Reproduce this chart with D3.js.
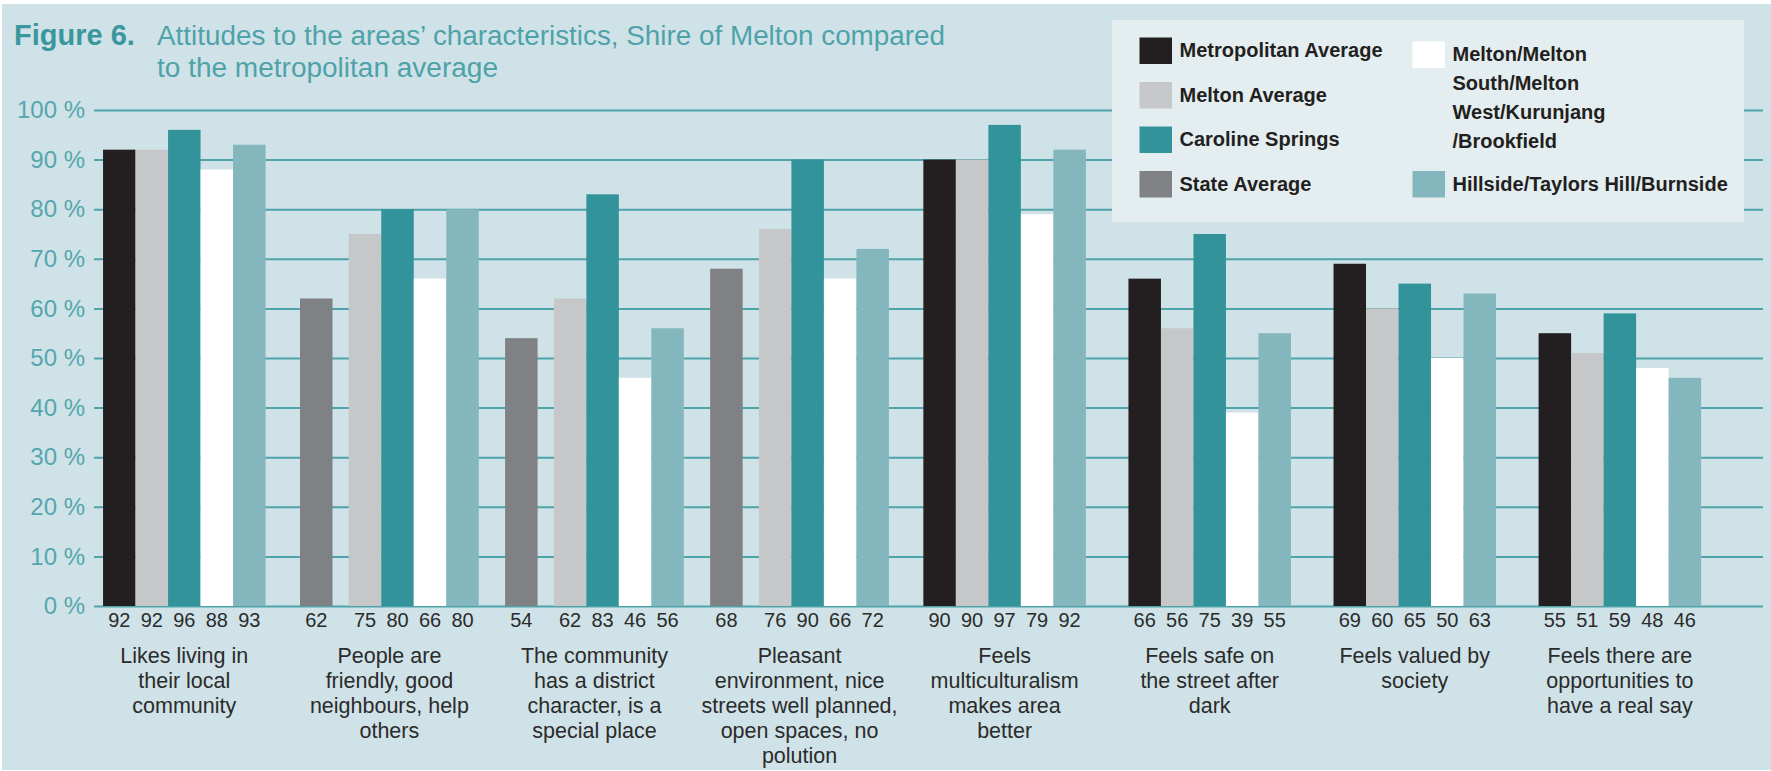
<!DOCTYPE html>
<html><head><meta charset="utf-8">
<script src="https://cdn.jsdelivr.net/npm/d3@7"></script>
<style>html,body{margin:0;padding:0;background:#fff;} svg{display:block}</style>
</head><body><svg id="chart" width="1771" height="771"></svg>
<script>
// ---------------- data ----------------
const categories = [
  "Likes living in their local community",
  "People are friendly, good neighbours, help others",
  "The community has a district character, is a special place",
  "Pleasant environment, nice streets well planned, open spaces, no polution",
  "Feels multiculturalism makes area better",
  "Feels safe on the street after dark",
  "Feels valued by society",
  "Feels there are opportunities to have a real say"
];
const categoryLines = [
  ["Likes living in", "their local", "community"],
  ["People are", "friendly, good", "neighbours, help", "others"],
  ["The community", "has a district", "character, is a", "special place"],
  ["Pleasant", "environment, nice", "streets well planned,", "open spaces, no", "polution"],
  ["Feels", "multiculturalism", "makes area", "better"],
  ["Feels safe on", "the street after", "dark"],
  ["Feels valued by", "society"],
  ["Feels there are", "opportunities to", "have a real say"]
];
const metropolitanAverage = [92, null, null, null, 90, 66, 69, 55];
const stateAverage        = [null, 62, 54, 68, null, null, null, null];
const meltonAverage       = [92, 75, 62, 76, 90, 56, 60, 51];
const carolineSprings     = [96, 80, 83, 90, 97, 75, 65, 59];
const meltonArea          = [88, 66, 46, 66, 79, 39, 50, 48];
const hillsideArea        = [93, 80, 56, 72, 92, 55, 63, 46];
const yTicks = [0, 10, 20, 30, 40, 50, 60, 70, 80, 90, 100];

const seriesKeys  = ["metro", "state", "melton", "caroline", "meltonArea", "hillside"];
const seriesNames = ["Metropolitan Average", "State Average", "Melton Average", "Caroline Springs",
                     "Melton/Melton South/Melton West/Kurunjang/Brookfield", "Hillside/Taylors Hill/Burnside"];
const seriesValues = [metropolitanAverage, stateAverage, meltonAverage, carolineSprings, meltonArea, hillsideArea];
const seriesColors = ["#231f20", "#808184", "#c6c7c9", "#33939a", "#ffffff", "#84b7bd"];
const legendLines = {
  meltonArea: ["Melton/Melton", "South/Melton", "West/Kurunjang", "/Brookfield"]
};
const titleBold = "Figure 6.";
const titleLines = ["Attitudes to the areas\u2019 characteristics, Shire of Melton compared", "to the metropolitan average"];

// ---------------- layout ----------------
const W = 1771, H = 771;
const svg = d3.select("#chart");
const FONT = "'Liberation Sans', Arial, Helvetica, sans-serif";
const gridColor = "#4fa3aa";
const gridLeft = 94, gridRight = 1763;

svg.append("rect").attr("x", 2).attr("y", 4).attr("width", W - 2).attr("height", H - 5).attr("fill", "#cfe2e7");

const color = d3.scaleOrdinal(seriesKeys, seriesColors);

const y = d3.scaleLinear().domain([0, 100]).range([606, 110]);
const x0 = d3.scaleBand().domain(categories).range([81.76, 1722.4]).paddingInner(0.2076).paddingOuter(0.1038);
const slots = [0, 1, 2, 3, 4];
const x1 = d3.scaleBand().domain(slots).range([0, x0.bandwidth()]);
const w = x1.bandwidth();

// title
svg.append("text").attr("x", 14).attr("y", 45).attr("font-family", FONT)
  .attr("font-size", 29).attr("font-weight", "bold").attr("fill", "#3a979e").text(titleBold);
const titleWidths = [788, 341];
titleLines.forEach((ln, i) => {
  svg.append("text").attr("x", 157).attr("y", 45 + i * 32).attr("font-family", FONT)
    .attr("font-size", 27).attr("fill", "#4fa2a9")
    .attr("textLength", titleWidths[i]).attr("lengthAdjust", "spacingAndGlyphs").text(ln);
});

// y axis / grid
const yAxis = d3.axisLeft(y).tickValues(yTicks).tickSize(-(gridRight - gridLeft)).tickPadding(9)
  .tickFormat(d => d + " %");
const gy = svg.append("g").attr("transform", `translate(${gridLeft},0)`).call(yAxis);
gy.select(".domain").remove();
gy.selectAll(".tick line").attr("stroke", gridColor).attr("stroke-width", 2);
gy.selectAll(".tick text").attr("font-family", FONT).attr("font-size", 24).attr("fill", "#55a6ad");

// bars
const bars = [];
categories.forEach((c, i) => {
  const stateGroup = stateAverage[i] != null;
  seriesKeys.forEach((k, si) => {
    const v = seriesValues[si][i];
    if (v == null) return;
    const slot = si <= 1 ? 0 : si - 1;
    const shift = stateGroup ? (slot === 0 ? -w / 4 : w / 4) : 0;
    bars.push({ cat: c, key: k, value: v, x: x0(c) + x1(slot) + shift });
  });
});
svg.append("g").selectAll("rect").data(bars).join("rect")
  .attr("x", d => d.x).attr("width", w)
  .attr("y", d => y(d.value)).attr("height", d => y(0) - y(d.value))
  .attr("fill", d => color(d.key));

// value labels
svg.append("g").selectAll("text").data(bars).join("text")
  .attr("x", d => d.x + w / 2).attr("y", 627).attr("text-anchor", "middle")
  .attr("font-family", FONT).attr("font-size", 20).attr("fill", "#2b2b2b")
  .text(d => d3.format("d")(d.value));

// category labels
categories.forEach((c, i) => {
  const t = svg.append("text").attr("text-anchor", "middle").attr("font-family", FONT)
    .attr("font-size", 21.5).attr("fill", "#2b2b2b");
  categoryLines[i].forEach((ln, j) => {
    t.append("tspan").attr("x", x0(c) + x0.bandwidth() / 2).attr("y", 663 + j * 25).text(ln);
  });
});

// legend
const lg = svg.append("g");
lg.append("rect").attr("x", 1112).attr("y", 20).attr("width", 632).attr("height", 202).attr("fill", "#e4eef0");
const legendOrder = [
  { key: "metro", col: 0, row: 0 },
  { key: "melton", col: 0, row: 1 },
  { key: "caroline", col: 0, row: 2 },
  { key: "state", col: 0, row: 3 },
  { key: "meltonArea", col: 1, row: 0 },
  { key: "hillside", col: 1, row: 3 }
];
const colX = [1139.5, 1412.5];
legendOrder.forEach(it => {
  const sx = colX[it.col];
  const sy = 37.5 + it.row * 44.5 + (it.col === 1 && it.row === 0 ? 4 : 0);
  lg.append("rect").attr("x", sx).attr("y", sy).attr("width", 32.5).attr("height", 26.5).attr("fill", color(it.key));
  const lines = legendLines[it.key] || [seriesNames[seriesKeys.indexOf(it.key)]];
  const tt = lg.append("text").attr("font-family", FONT).attr("font-size", 20).attr("font-weight", "bold").attr("fill", "#231f20");
  lines.forEach((ln, j) => {
    tt.append("tspan").attr("x", sx + 40).attr("y", sy + 19.5 + j * 29).text(ln);
  });
});
</script></body></html>
